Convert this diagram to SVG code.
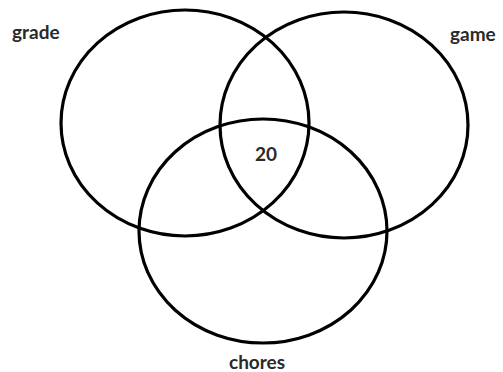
<svg xmlns="http://www.w3.org/2000/svg" width="503" height="372" viewBox="0 0 503 372">
<style>
.c{fill:none;stroke:#000;stroke-width:3.2}
.t{font-family:Lato,"Open Sans",sans-serif;font-weight:bold;font-size:19px;fill:#2a2a2a}
</style>
<rect width="503" height="372" fill="#fff"/>
<g id="grade"><ellipse class="c" cx="185" cy="123" rx="124" ry="113"/><text class="t" x="12" y="39">grade</text></g>
<g id="game"><ellipse class="c" cx="344" cy="125" rx="124" ry="113"/><text class="t" x="450" y="41">game</text></g>
<g id="chores"><ellipse class="c" cx="263" cy="231" rx="124" ry="112"/><text class="t" x="229" y="369">chores</text></g>
<g id="center"><text class="t" x="255" y="161">20</text></g>
<g id="connectors"/>
</svg>
